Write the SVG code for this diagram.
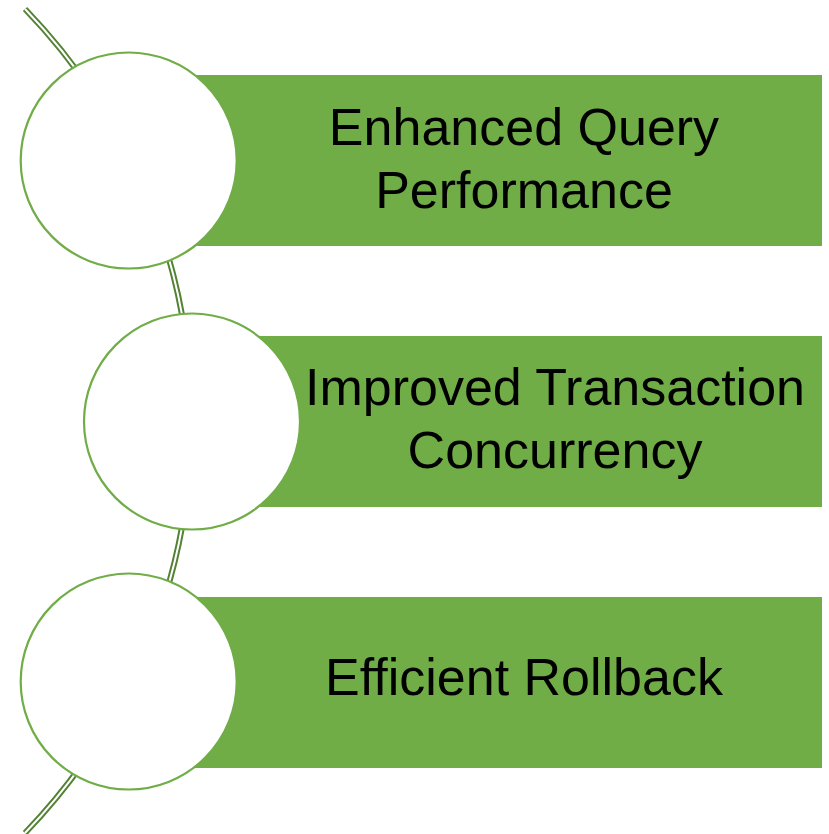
<svg xmlns="http://www.w3.org/2000/svg" width="829" height="834" viewBox="0 0 829 834">
  <style>
    .bar { fill: #70AD47; }
    .dot { fill: #FFFFFF; stroke: #70AD47; stroke-width: 2.2; }
    .lbl { font-family: "Liberation Sans", Arial, sans-serif; font-size: 52px; fill: #000000; text-anchor: middle; }
    .arcOuter { fill: none; stroke: #548235; stroke-width: 6; }
    .arcInner { fill: none; stroke: #FFFFFF; stroke-width: 2; }
  </style>
  <g id="connectors">
    <path class="arcOuter" d="M 25 9 A 593 593 0 0 1 25 833"/>
    <path class="arcInner" d="M 25 9 A 593 593 0 0 1 25 833"/>
  </g>
  <g id="node1">
    <rect class="bar" x="128" y="75" width="694" height="171"/>
    <circle class="dot" cx="128.7" cy="160.5" r="108"/>
    <text class="lbl" x="524" y="145">Enhanced Query</text>
    <text class="lbl" x="524" y="208">Performance</text>
  </g>
  <g id="node2">
    <rect class="bar" x="192" y="336" width="630" height="171"/>
    <circle class="dot" cx="192" cy="421.5" r="108"/>
    <text class="lbl" x="555" y="405">Improved Transaction</text>
    <text class="lbl" x="555" y="468">Concurrency</text>
  </g>
  <g id="node3">
    <rect class="bar" x="128" y="597" width="694" height="171"/>
    <circle class="dot" cx="128.7" cy="681.5" r="108"/>
    <text class="lbl" x="524" y="695">Efficient Rollback</text>
  </g>
</svg>
